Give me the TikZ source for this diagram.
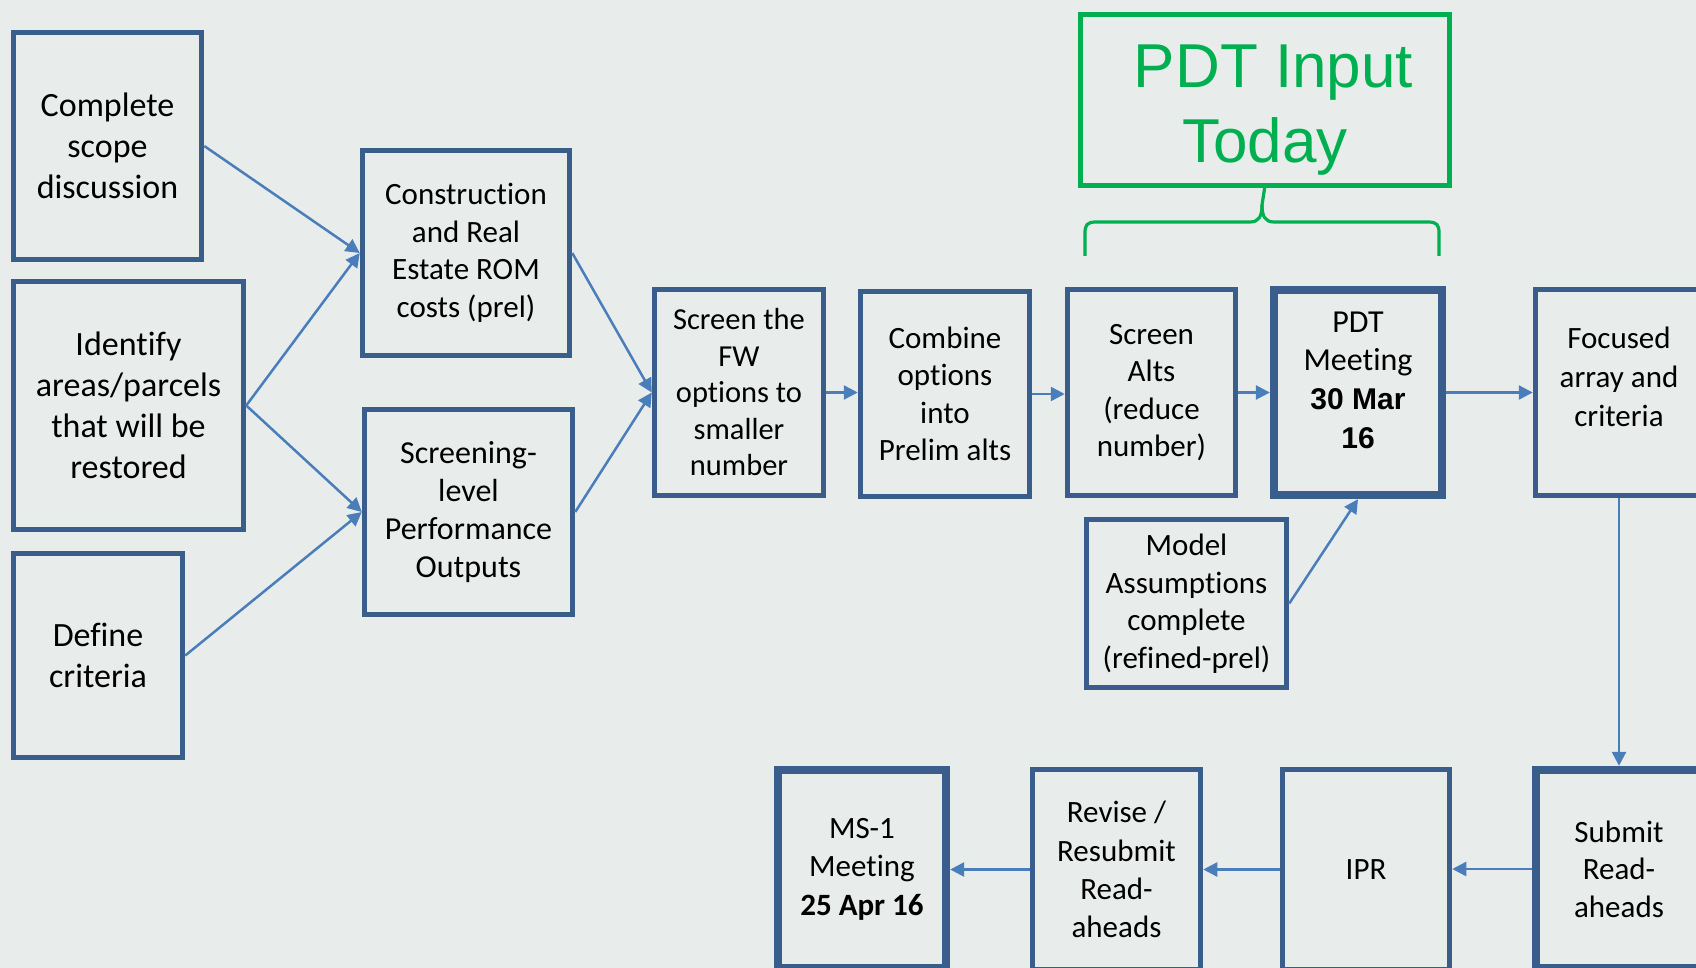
\documentclass[tikz,border=0pt]{standalone}
\usepackage{fontspec}
\setmainfont{Carlito}[Ligatures={NoCommon}]
\newfontfamily\arialf{Liberation Sans}
\usetikzlibrary{arrows.meta}
\definecolor{bg}{HTML}{E8ECEB}
\definecolor{boxblue}{HTML}{3A5E8C}
\definecolor{arrblue}{HTML}{4A7EBB}
\definecolor{pdtgreen}{HTML}{00B050}
\begin{document}
\begin{tikzpicture}[x=1pt,y=-1pt,
  box/.style={draw=boxblue, line width=5.5pt, inner sep=0pt, align=center, text=black},
  thickbox/.style={box, line width=8.3pt},
  fL/.style={font=\fontsize{34}{41}\selectfont},
  fM/.style={font=\fontsize{31}{37.5}\selectfont},
  txt/.style={inner sep=0pt, align=center, text=black},
  arr/.style={draw=arrblue, line width=2.5pt, -{Triangle[length=14pt,width=14pt]}},
]
\useasboundingbox (0,0) rectangle (1696,968);
\fill[bg] (0,0) rectangle (1696,968);
\begin{scope}
\clip (0,0) rectangle (1696,968);
% left column
\node[box, fL, minimum width=188pt, minimum height=227pt] (comp) at (107.5,146) {Complete\\scope\\discussion};
\node[box, fL, minimum width=230pt, minimum height=248pt] (ident) at (128.5,405.5) {Identify\\areas/parcels\\that will be\\restored};
\node[box, fL, minimum width=169pt, minimum height=204pt] (defc) at (98,655.5) {Define\\criteria};
% second column
\node[box, fM, minimum width=207pt, minimum height=205pt] (cons) at (466,253) {Construction\\and Real\\Estate ROM\\costs (prel)};
\node[box, font=\fontsize{32}{38.2}\selectfont, minimum width=208pt, minimum height=205pt] (scrl) at (468.5,512) {Screening-\\level\\Performance\\Outputs};
% main row
\node[box, font=\fontsize{30.5}{36.5}\selectfont, minimum width=169pt, minimum height=206pt] (fw) at (739,392.5) {Screen the\\FW\\options to\\smaller\\number};
\node[box, fM, minimum width=169pt, minimum height=205pt] (comb) at (945,394) {Combine\\options\\into\\Prelim alts};
\node[box, fM, minimum width=168pt, minimum height=206pt] (alts) at (1151.5,392.5) {Screen\\Alts\\(reduce\\number)};
\node[thickbox, minimum width=168pt, minimum height=205pt] (pdtm) at (1358,392.5) {};
\node[txt, font=\fontsize{32}{38.6}\selectfont] (pdtmT) at (1358,380) {PDT\\Meeting\\{\arialf\bfseries\fontsize{30}{38.6}\selectfont 30 Mar}\\{\arialf\bfseries\fontsize{30}{38.6}\selectfont 16}};
\node[box, minimum width=167pt, minimum height=206pt] (foc) at (1619,392.5) {};
\node[txt, font=\fontsize{31}{39}\selectfont] (focT) at (1619,377) {Focused\\array and\\criteria};
\node[box, fM, minimum width=200pt, minimum height=168pt] (model) at (1186.5,603.5) {Model\\Assumptions\\complete\\(refined-prel)};
% bottom row
\node[thickbox, fM, minimum width=166pt, minimum height=198pt] (sub) at (1619,869) {Submit\\Read-\\aheads};
\node[box, fM, minimum width=167pt, minimum height=200pt] (ipr) at (1366,869.5) {IPR};
\node[box, font=\fontsize{31}{38.2}\selectfont, minimum width=168pt, minimum height=200pt] (rev) at (1116.5,869.5) {Revise /\\Resubmit\\Read-\\aheads};
\node[thickbox, font=\fontsize{31}{38.4}\selectfont, minimum width=168pt, minimum height=198pt] (ms1) at (862,869) {MS-1\\Meeting\\\textbf{25 Apr 16}};
% PDT input today
\node[draw=pdtgreen, line width=5pt, inner sep=0pt, outer sep=0pt, minimum width=369pt, minimum height=171pt] (pdti) at (1265,100) {};
\node[txt, text=pdtgreen, font=\arialf\fontsize{62}{75}\selectfont] (pdtiT) at (1265,110) {\hspace*{17pt}PDT Input\\Today};
\draw[pdtgreen, line width=3.2pt]
  (1085,256) -- (1085,233) .. controls (1085,225) and (1087,222) .. (1096,222)
  -- (1250,222) .. controls (1259,222) and (1262,216) .. (1262,205) -- (pdti.south);
\draw[pdtgreen, line width=3.2pt]
  (1439,256) -- (1439,233) .. controls (1439,225) and (1437,222) .. (1428,222)
  -- (1274,222) .. controls (1265,222) and (1262,216) .. (1262,205);
% connectors
\draw[arr] (comp.east) -- (cons.west);
\draw[arr] (ident.east) -- (cons.west);
\draw[arr] (ident.east) -- (scrl.west);
\draw[arr] (defc.east) -- (scrl.west);
\draw[arr] (cons.east) -- (fw.west);
\draw[arr] (scrl.east) -- (fw.west);
\draw[arr] (fw.east) -- (fw.east -| comb.west);
\draw[arr] (comb.east) -- (comb.east -| alts.west);
\draw[arr] (alts.east) -- (alts.east -| pdtm.west);
\draw[arr] (pdtm.east) -- (pdtm.east -| foc.west);
\draw[arr] (model.east) -- (pdtm.south);
\draw[arr] (foc.south) -- (sub.north);
\draw[arr] (sub.west) -- (sub.west -| ipr.east);
\draw[arr] (ipr.west) -- (ipr.west -| rev.east);
\draw[arr] (rev.west) -- (rev.west -| ms1.east);
\end{scope}
\end{tikzpicture}
\end{document}
